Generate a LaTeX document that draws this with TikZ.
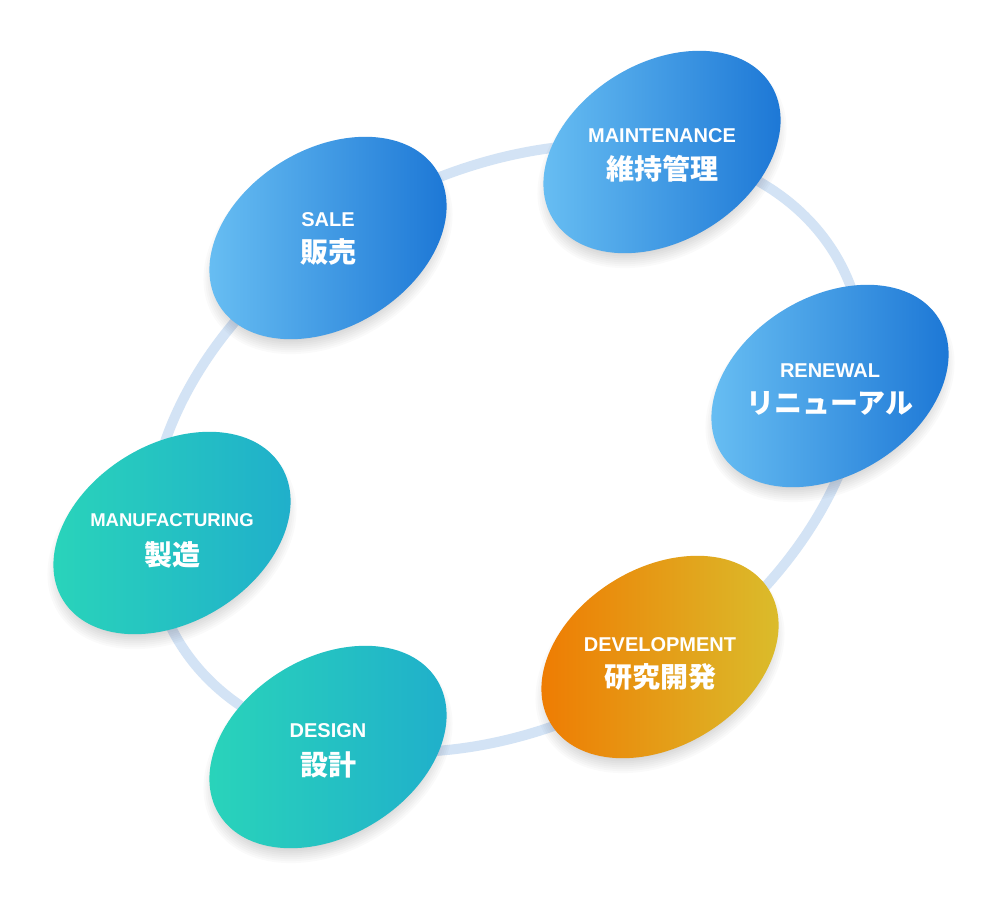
\documentclass[tikz,border=0pt]{standalone}
\usepackage{fontspec}
\newfontfamily\enfont{Liberation Sans}
\newfontfamily\jpfont{Noto Sans CJK JP}
\usetikzlibrary{shapes.geometric}
\definecolor{ringc}{HTML}{D3E3F5}
\definecolor{blueA}{HTML}{6CC2F4}
\definecolor{blueB}{HTML}{1873D4}
\definecolor{tealA}{HTML}{2AD6B9}
\definecolor{tealB}{HTML}{1FADCC}
\definecolor{orA}{HTML}{F07800}
\definecolor{orB}{HTML}{D9C02E}
\tikzset{
  declare function={
    rs(\t)=1-0.06*((1+cos(\t-305))/2)^3-0.03*((1+cos(\t-135))/2)^3;
    rX(\t)=390*rs(\t)*cos(\t);
    rY(\t)=283*rs(\t)*sin(\t);
  },
  ringline/.style={draw=ringc, line width=10pt},
  blobshape/.style={ellipse, inner sep=0pt, minimum width=256pt, minimum height=178pt, rotate=31.6, draw=none},
  entext/.style={text=white, inner sep=0pt, font=\enfont\bfseries\fontsize{20}{22}\selectfont},
  jptext/.style={text=white, inner sep=0pt, font=\jpfont\bfseries\fontsize{28}{30}\selectfont},
}
% name, x, y, colour A, colour B, English, Japanese, y of English, y of Japanese
\newcommand\myblob[9]{%
  \foreach \s in {0,2,...,14} {\fill[black, opacity=0.018, shift={(#2,#3+9)}, rotate=31.6] (0,0) ellipse [x radius=120+\s, y radius=81+\s];}
  \node[blobshape, left color=#4, right color=#5] (#1) at (#2,#3) {};
  \node[entext] (#1en) at (#2,#8) {#6};
  \node[jptext] (#1jp) at (#2,#9) {#7};
}
\begin{document}
\begin{tikzpicture}[x=1pt,y=-1pt]
\useasboundingbox (0,0) rectangle (1004,912);
\fill[white] (0,0) rectangle (1004,912);
\draw[ringline] plot[variable=\t, domain=0:360, samples=181, smooth]
  ({510+0.891*rX(\t)-0.454*rY(\t)}, {450-0.454*rX(\t)-0.891*rY(\t)}) -- cycle;
\myblob{sale}{328}{238}{blueA}{blueB}{SALE}{販売}{219.5}{252}
\myblob{maint}{662}{152}{blueA}{blueB}{MAINTENANCE}{維持管理}{135.5}{168.5}
\myblob{renew}{830}{386}{blueA}{blueB}{RENEWAL}{リニューアル}{371}{403}
\myblob{dev}{660}{657}{orA}{orB}{DEVELOPMENT}{研究開発}{644.5}{676.5}
\myblob{design}{328}{747}{tealA}{tealB}{DESIGN}{設計}{731}{765}
\myblob{manu}{172}{533}{tealA}{tealB}{{\fontsize{18.5}{20}\selectfont MANUFACTURING}}{製造}{520}{555}
\end{tikzpicture}
\end{document}
